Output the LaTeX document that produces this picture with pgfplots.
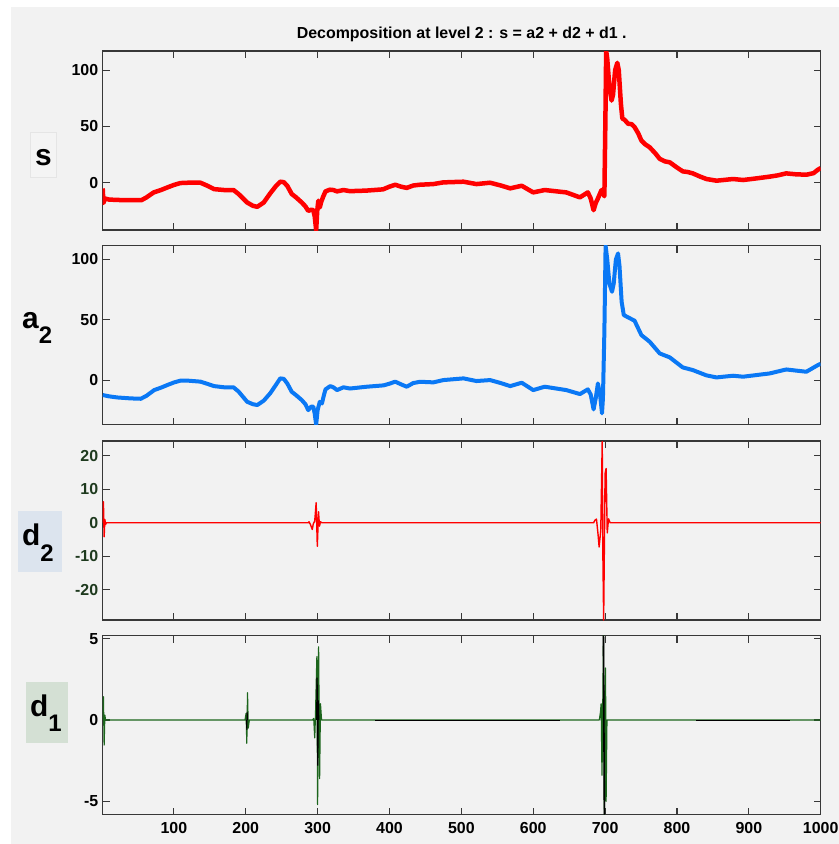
\documentclass[border=0pt]{standalone}
\usepackage{fontspec}
\setmainfont{Liberation Sans}
\usepackage{pgfplots}
\pgfplotsset{compat=1.18}

\definecolor{bg}{HTML}{F2F2F2}
\definecolor{axcol}{HTML}{383838}
\definecolor{sred}{HTML}{FF0000}
\definecolor{ablue}{HTML}{0A78F5}
\definecolor{dgreen}{HTML}{1C651C}
\definecolor{tickgreen}{HTML}{1E3A1E}
\definecolor{boxgray}{HTML}{F4F4F4}
\definecolor{boxblue}{HTML}{DCE4EE}
\definecolor{boxgreen}{HTML}{D4E0D4}

\pgfplotsset{
  panel/.style={
    scale only axis, width=718bp, height=179bp,
    xmin=1, xmax=1000,
    xtick={100,200,...,1000},
    tick align=inside, tick pos=both,
    major tick length=7bp,
    axis line style={axcol, line width=1.2bp},
    every tick/.style={axcol, line width=1.1bp},
    tick label style={font=\fontsize{16}{16}\selectfont\bfseries},
    /pgf/number format/assume math mode=true,
    /pgf/number format/1000 sep={},
    xticklabel style={yshift=-4bp},
    yticklabel style={xshift=-1bp},
    clip=true,
  },
}

\begin{document}
\begin{tikzpicture}
\fill[white] (0bp,0bp) rectangle (839bp,-844bp);
\fill[bg] (11bp,-7bp) rectangle (839bp,-844bp);

% title
\node[anchor=base, font=\fontsize{16}{16}\selectfont\bfseries] at (461.7bp,-38.7bp)
  {Decomposition at level 2 : s = a2 + d2 + d1 .};

% row labels
\filldraw[fill=boxgray, draw=black!10] (30bp,-132bp) rectangle (56bp,-177bp);
\node[anchor=base, font=\fontsize{30}{30}\selectfont\bfseries] at (43.5bp,-165.5bp) {s};
\node[anchor=base west, inner sep=0pt, font=\fontsize{30}{30}\selectfont\bfseries] at (22bp,-328bp)
  {a\raisebox{-15bp}{\fontsize{24}{24}\selectfont 2}};
\fill[boxblue] (17.7bp,-511bp) rectangle (61.7bp,-571.7bp);
\node[anchor=base west, inner sep=0pt, font=\fontsize{30}{30}\selectfont\bfseries] at (22bp,-545bp)
  {d\raisebox{-16.5bp}{\fontsize{24}{24}\selectfont 2}};
\fill[boxgreen] (26bp,-681.7bp) rectangle (68.3bp,-742.7bp);
\node[anchor=base west, inner sep=0pt, font=\fontsize{30}{30}\selectfont\bfseries] at (30bp,-716bp)
  {d\raisebox{-15.5bp}{\fontsize{24}{24}\selectfont 1}};

% s
\begin{axis}[panel, at={(102.7bp,-51bp)}, anchor=north west,
  ymin=-42, ymax=117, ytick={0,50,100}, xticklabels={}]
\addplot[sred, line width=4.5bp, line join=round] coordinates {
(1,-5) (2,-18) (4,-14) (10,-15) (30,-15.5) (55,-15.5) (62,-13) (72,-8.6) (82,-6.5)
(91,-4.2) (100,-2) (109,-0.3) (120,0) (137,0) (146,-2.5) (156,-5.7) (170,-6.5)
(183,-6.5) (190,-10) (202,-17.6) (210,-20.5) (216,-21.4) (225,-17.6) (234,-9.5)
(242,-3) (248,0.9) (253,0.5) (258,-3) (264,-10) (270,-13) (278,-17.6) (283,-21)
(287,-25) (291,-24) (294,-24.4) (296,-30) (298,-42) (299.5,-25) (301,-16) (303,-22)
(305,-17) (308,-12) (311,-7.7) (317,-6.2) (322,-6.5) (327,-7.7) (336,-6.5) (345,-7.5)
(368,-7) (391,-5.9) (400,-3.5) (408,-1.8) (416,-3.5) (424,-4.6) (433,-2.5) (442,-1.8)
(461,-1.2) (475,0.3) (503,0.9) (521,-1.2) (540,0) (555,-2.5) (568,-5) (584,-2.7)
(600,-8.6) (616,-6.5) (646,-8.6) (665,-13) (676,-8.6) (680,-14) (684,-24.4) (687,-18)
(690,-14) (695,-6.5) (699,-12) (700.5,60) (701.5,117) (703,110) (706,85) (709,73)
(711,78) (714,100) (717,106.5) (719,100) (722,70) (724,57) (727,56) (732,52.4)
(737,52) (741,49.4) (746,44) (750.5,37.5) (756,34) (762,31.5) (770,26) (776,21.2)
(783,19) (790,18.1) (800,13.5) (808,10.1) (815,9.5) (822,8.3) (832,5.5) (841,3.3)
(855,1.8) (866,2.5) (878,3.3) (892,2.4) (910,3.8) (929,5.4) (940,6.5) (952,8.3)
(965,7.5) (980,7.1) (990,8.5) (996,11.5) (1000,13)
};
\end{axis}

% a2
\begin{axis}[panel, at={(102.7bp,-245.7bp)}, anchor=north west,
  ymin=-37, ymax=111.4, ytick={0,50,100}, xticklabels={}]
\addplot[ablue, line width=4bp, line join=round] coordinates {
(1,-12.4) (10,-13.5) (21,-14.4) (40,-15.2) (54,-15.5) (62,-13) (72.6,-8.3) (82,-6.3)
(91,-4.1) (100,-2) (109,-0.5) (120,-0.5) (137,-1.3) (146,-3) (156,-5) (170,-6)
(183,-6) (190,-9.5) (202,-18) (210,-20) (216,-20.7) (225,-17.1) (234,-11) (242,-4)
(248,1.4) (253,1) (258,-3) (264,-9.7) (270,-12.5) (278,-16.6) (283,-20) (287,-24.9)
(291,-22) (294,-22) (296,-28) (298,-37) (300,-25) (303,-18) (306,-19.4) (309,-12)
(311,-7.7) (317.6,-5) (322,-6) (327,-8.3) (336,-6) (345,-7) (368.6,-5.5) (391.7,-4.4)
(400,-3) (408,-1.3) (416,-3.5) (424,-5.5) (433,-2.5) (442.6,-1.4) (461,-1.9) (475,0)
(503,1.4) (521,-0.8) (540,0) (555,-2.5) (568,-5) (584,-2.2) (600,-8.3) (616,-5.5)
(646,-8.3) (665,-11.6) (676,-7.7) (680,-12) (684,-24.3) (687,-15) (690,-2.8) (693,-12)
(695.7,-27.6) (697,-15) (699,40) (700.7,111.4) (703,100) (706,80) (709.6,73.2)
(712,80) (715,100) (718,105) (720,95) (723,65) (726,53.9) (732,52) (741,49.2)
(750.5,37.3) (762,31.8) (776,22.1) (790,18.8) (808,10.5) (822,8.3) (841,3.9)
(855,2.2) (878,3.6) (892,2.8) (929,5.5) (952,8.8) (980,6.9) (996,12.4) (1000,13.5)
};
\end{axis}

% d2
\begin{axis}[panel, at={(102.7bp,-441bp)}, anchor=north west,
  ymin=-29, ymax=24.4, ytick={-20,-10,0,10,20}, xticklabels={},
  yticklabel style={text=tickgreen}]
\addplot[sred, line width=1.4bp, line join=round] coordinates {
(1,0) (2,6.3) (3,-4.2) (4,1) (5,-0.5) (6,0) (287,0) (288,0.3) (290,-0.5) (292.6,-2)
(294,-0.3) (296,0.5) (298,6) (299.6,-7) (301.3,3.3) (302.6,-1) (304,0.3) (306,0)
(684,0) (686,0.8) (688,1.1) (690,-3) (691.7,-7.2) (694,-2.2) (696,24.4) (697,-11)
(698,-29) (700,14.7) (701.4,16.2) (703,-3) (704.8,1.2) (707,0) (1000,0)
};
\end{axis}

% d1
\begin{axis}[panel, at={(102.7bp,-635.7bp)}, anchor=north west,
  ymin=-5.82, ymax=5.18, ytick={-5,0,5}]
\addplot[dgreen, line width=1.2bp, line join=round] coordinates {
(1,0) (2,1.43) (3,-1.54) (4,0.3) (5,0) (199,0) (200.5,0.4) (201.5,-1.43) (202.5,1.68)
(203.5,-0.5) (205,0) (293,0) (294.6,0.1) (296,-1.1) (297,0.2) (299,3.9) (300,-5.2)
(301.4,4.5) (302.8,-3.6) (304,1) (305.5,0) (692,0) (693.6,0.5) (694.5,1) (695.7,-3.4)
(697,1.8) (697.7,5.18) (699,-5.82) (700.6,3.2) (701.4,-5) (702.6,0) (1000,0)
};
\addplot[black, line width=0.9bp] coordinates {(380,0) (637,0)};
\addplot[black, line width=0.9bp] coordinates {(827,0) (957,0)};
\addplot[black, line width=1bp] coordinates {(201,0) (201.5,-0.6) (202,0.5) (202.5,0)};
\addplot[black, line width=1.2bp] coordinates {(298.7,0) (299.3,2.6) (300.2,-2.8) (301,1.2) (301.6,0)};
\addplot[black, line width=1.6bp] coordinates {(697.7,5.18) (699,-5.82)};
\end{axis}

\pgfresetboundingbox
\path[use as bounding box] (0bp,0bp) rectangle (839bp,-844bp);
\end{tikzpicture}
\end{document}
